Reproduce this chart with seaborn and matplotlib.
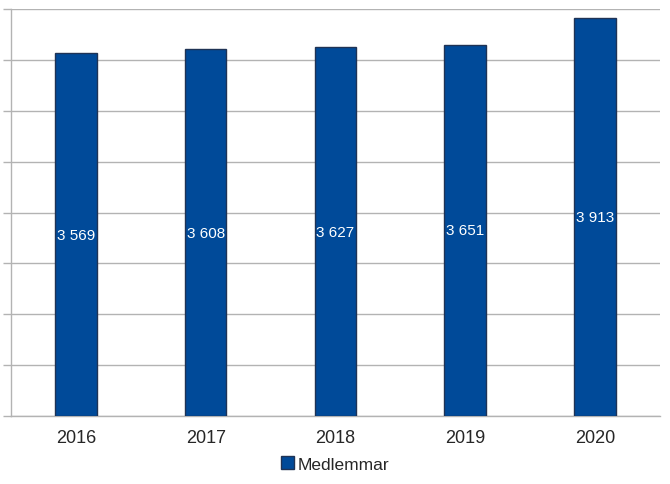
import pandas as pd
import seaborn as sns
import matplotlib.pyplot as plt
from matplotlib.patches import Patch

# members per year
years = ['2016', '2017', '2018', '2019', '2020']
members = [3569, 3608, 3627, 3651, 3913]
series_name = 'Medlemmar'

BAR_COLOR = '#004A99'
EDGE_COLOR = '#1F3355'
GRID_COLOR = '#B3B3B3'

df = pd.DataFrame({'year': years, 'members': members})

sns.set_style('white')
plt.rcParams['font.family'] = ['Liberation Sans', 'DejaVu Sans']

fig = plt.figure(figsize=(6.7, 4.85), dpi=100)
ax = fig.add_axes([0.0164, 0.1402, 0.9686, 0.8388])

sns.barplot(data=df, x='year', y='members', color=BAR_COLOR, width=0.32,
            edgecolor=EDGE_COLOR, linewidth=1.0, saturation=1, ax=ax, zorder=3)

# value labels in the middle of each bar
for i, v in enumerate(members):
    ax.text(i, v / 2, f'{v:,}'.replace(',', ' '), ha='center', va='center',
            color='white', fontsize=11, zorder=4)

ax.set_ylim(0, 4000)
ax.set_xlim(-0.5, len(years) - 0.5)
ax.set_yticks(range(0, 4001, 500))
ax.set_yticklabels([])
ax.yaxis.grid(True, color=GRID_COLOR, linewidth=1.0, zorder=0)
ax.set_axisbelow(True)

# minor ticks at category boundaries on the x axis
ax.set_xticks([i - 0.5 for i in range(len(years) + 1)], minor=True)
ax.tick_params(axis='x', which='major', length=0, labelsize=13, pad=9)
ax.tick_params(axis='x', which='minor', length=5, width=1, color=GRID_COLOR, direction='out')
ax.tick_params(axis='y', which='major', length=6, width=1, color=GRID_COLOR, direction='out', left=True)

for s in ['top', 'right']:
    ax.spines[s].set_visible(False)
for s in ['left', 'bottom']:
    ax.spines[s].set_color(GRID_COLOR)
    ax.spines[s].set_linewidth(1.0)

ax.set_xlabel('')
ax.set_ylabel('')

handle = Patch(facecolor=BAR_COLOR, edgecolor=EDGE_COLOR, label=series_name)
fig.legend(handles=[handle], loc='center', bbox_to_anchor=(0.5, 0.041),
           frameon=False, fontsize=12.5, handlelength=0.75, handleheight=0.75,
           handletextpad=0.2)

fig.savefig('out.png', dpi=100)
